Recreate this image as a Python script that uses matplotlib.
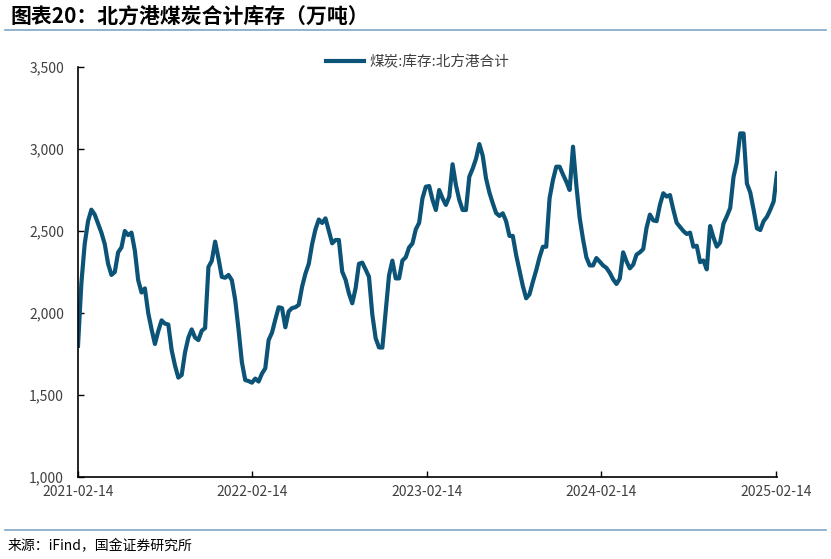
import matplotlib
matplotlib.use("Agg")
import matplotlib.pyplot as plt
import matplotlib.dates as mdates
from matplotlib.ticker import FuncFormatter
import pandas as pd

plt.rcParams['font.family'] = ['Noto Sans CJK SC', 'DejaVu Sans']

# weekly data, starting 2021-02-14
start_date = "2021-02-14"
stock = [
    1800, 2180, 2420, 2560, 2630, 2600, 2545, 2490, 2420, 2300,
    2232, 2250, 2370, 2400, 2500, 2475, 2490, 2380, 2200, 2125,
    2150, 2000, 1900, 1811, 1890, 1955, 1935, 1930, 1774, 1680,
    1606, 1622, 1760, 1850, 1900, 1850, 1835, 1892, 1908, 2280,
    2318, 2435, 2333, 2220, 2215, 2232, 2200, 2080, 1900, 1700,
    1591, 1585, 1575, 1600, 1582, 1630, 1663, 1835, 1880, 1960,
    2035, 2030, 1913, 2010, 2030, 2035, 2050, 2160, 2240, 2300,
    2420, 2510, 2570, 2549, 2577, 2500, 2425, 2445, 2445, 2252,
    2203, 2120, 2059, 2150, 2300, 2307, 2265, 2221, 1990, 1846,
    1790, 1789, 2010, 2230, 2319, 2211, 2211, 2320, 2340, 2400,
    2424, 2510, 2550, 2700, 2770, 2774, 2690, 2628, 2750, 2699,
    2659, 2709, 2907, 2780, 2690, 2628, 2628, 2831, 2880, 2940,
    3030, 2960, 2821, 2735, 2670, 2610, 2592, 2608, 2560, 2470,
    2470, 2354, 2260, 2165, 2090, 2114, 2190, 2260, 2340, 2404,
    2404, 2700, 2810, 2892, 2892, 2845, 2801, 2750, 3014, 2780,
    2580, 2450, 2340, 2290, 2290, 2335, 2313, 2290, 2275, 2245,
    2205, 2177, 2210, 2370, 2315, 2272, 2295, 2356, 2370, 2390,
    2520, 2600, 2565, 2560, 2660, 2730, 2710, 2719, 2630, 2550,
    2525, 2500, 2482, 2490, 2404, 2410, 2310, 2320, 2266, 2530,
    2460, 2405, 2430, 2545, 2590, 2640, 2830, 2920, 3095, 3095,
    2790, 2735, 2630, 2516, 2506, 2560, 2587, 2630, 2680, 2852,
]
dates = pd.date_range(start_date, periods=len(stock), freq="7D")

tick_dates = ["2021-02-14", "2022-02-14", "2023-02-14", "2024-02-14", "2025-02-14"]
y_ticks = [1000, 1500, 2000, 2500, 3000, 3500]

line_color = "#0b5377"
text_color = "#404040"
rule_color = "#7fa7c4"

fig = plt.figure(figsize=(8.31, 5.59), dpi=100)
ax = fig.add_axes([78 / 831, 1 - 477 / 559, 699 / 831, 410 / 559])

ax.plot(dates, stock, color=line_color, lw=3.0, solid_joinstyle="round",
        label="煤炭:库存:北方港合计")

ax.set_ylim(1000, 3500)
ax.set_yticks(y_ticks)
ax.yaxis.set_major_formatter(FuncFormatter(lambda v, p: f"{int(v):,}"))
ax.set_xlim(dates[0], dates[-1])
ax.set_xticks(pd.to_datetime(tick_dates))
ax.xaxis.set_major_formatter(mdates.DateFormatter("%Y-%m-%d"))

for side in ["top", "right"]:
    ax.spines[side].set_visible(False)
for side in ["left", "bottom"]:
    ax.spines[side].set_color("black")
    ax.spines[side].set_linewidth(1.2)
ax.tick_params(direction="in", length=4, width=1, colors="black",
               labelcolor=text_color, labelsize=10)
ax.tick_params(axis="y", pad=10)
ax.tick_params(axis="x", pad=6)

fig.legend(loc="center", bbox_to_anchor=(418 / 831, 1 - 62 / 559), frameon=False,
           fontsize=10.5, labelcolor=text_color, handlelength=2.6, handletextpad=0.4)

# title, rules and source
fig.text(10 / 831, 1 - 16 / 559, "图表20：北方港煤炭合计库存（万吨）", fontsize=15,
         fontweight="bold", va="center", ha="left", color="black")
fig.add_artist(plt.Line2D([5 / 831, 826 / 831], [1 - 30 / 559, 1 - 30 / 559],
                          color=rule_color, lw=1.2))
fig.add_artist(plt.Line2D([5 / 831, 826 / 831], [1 - 530 / 559, 1 - 530 / 559],
                          color=rule_color, lw=1.2))
fig.text(8 / 831, 1 - 546 / 559, "来源：iFind，国金证券研究所", fontsize=10,
         va="center", ha="left", color="black")

fig.savefig("out.png", dpi=100)
